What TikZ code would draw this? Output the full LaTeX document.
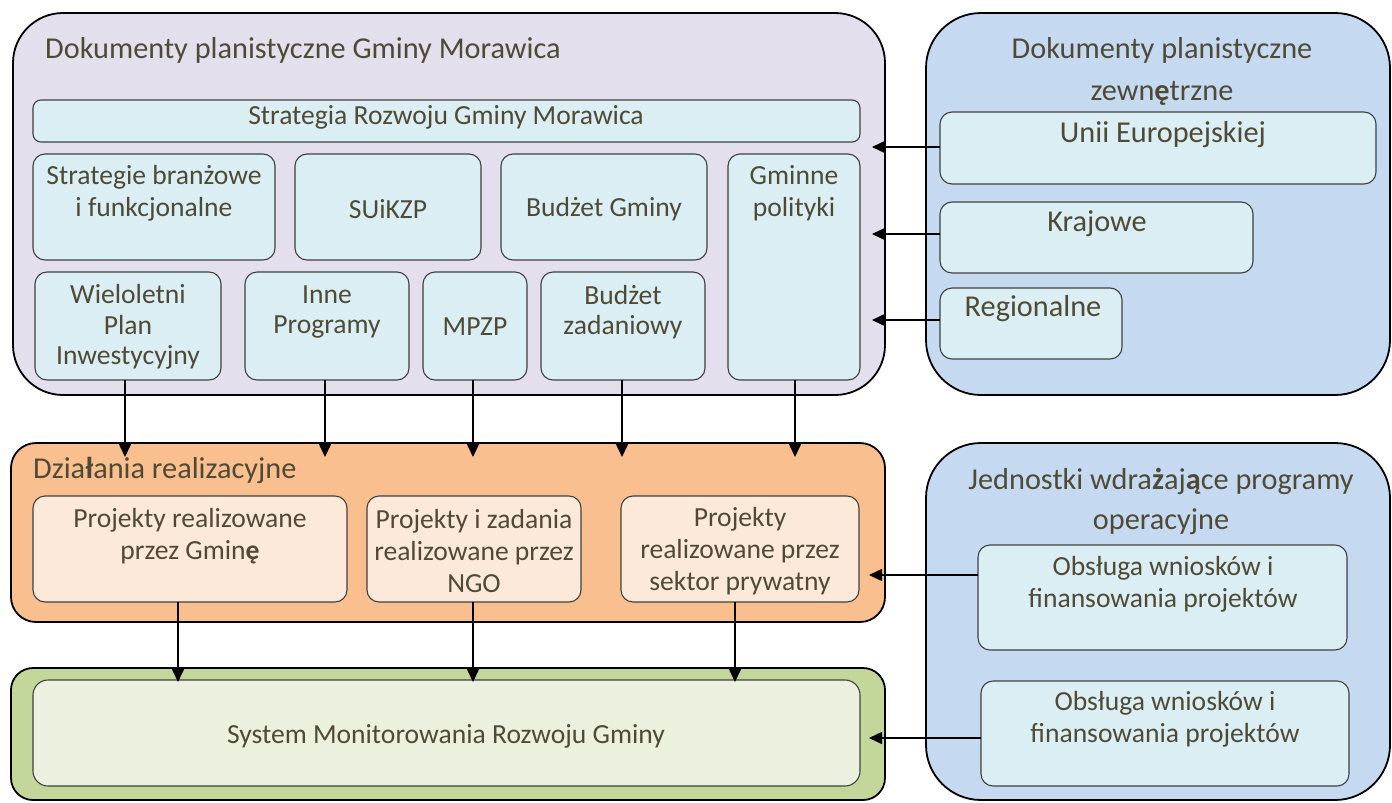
\documentclass[tikz,border=0pt]{standalone}
\usepackage{fontspec}
\setmainfont{Carlito}
\usetikzlibrary{arrows.meta}
\definecolor{txt}{HTML}{4F4A36}
\definecolor{purp}{HTML}{E4DFEC}
\definecolor{lblue}{HTML}{DAEEF3}
\definecolor{mblue}{HTML}{C5D9F1}
\definecolor{orng}{HTML}{FABF8F}
\definecolor{lorng}{HTML}{FDE9D9}
\definecolor{grn}{HTML}{C4D79B}
\definecolor{lgrn}{HTML}{EBF1DE}
\begin{document}
\begin{tikzpicture}[x=1pt,y=-1pt,
  outerbox/.style={draw=black,line width=1.8pt,inner sep=0pt,outer sep=0pt,anchor=north west},
  innerbox/.style={draw=black!75,line width=1.1pt,fill=lblue,rounded corners=12pt,inner sep=0pt,outer sep=0pt,anchor=north west},
  lbl/.style={text=txt,font=\fontsize{27.6}{32}\selectfont,align=center,inner sep=0pt},
  ttl/.style={text=txt,font=\fontsize{30.3}{42}\selectfont,align=center,inner sep=0pt},
  conn/.style={line width=1.6pt,-{Triangle[length=13pt,width=12pt]}}]
\useasboundingbox (0,0) rectangle (1392,803);
% outer boxes
\node[outerbox,fill=purp,rounded corners=50pt,minimum width=872pt,minimum height=382pt] (gm) at (13,13) {};
\node[outerbox,fill=mblue,rounded corners=55pt,minimum width=464pt,minimum height=382pt] (zew) at (926,13) {};
\node[outerbox,fill=orng,rounded corners=25pt,minimum width=874pt,minimum height=179pt] (dz) at (11,443) {};
\node[outerbox,fill=mblue,rounded corners=55pt,minimum width=464pt,minimum height=357pt] (jw) at (926,443) {};
\node[outerbox,fill=grn,rounded corners=22pt,minimum width=874pt,minimum height=132pt] (sm) at (11,668) {};
% purple inner boxes
\node[innerbox,rounded corners=8pt,minimum width=827pt,minimum height=42pt] (sr) at (33,100) {};
\node[innerbox,minimum width=242pt,minimum height=106pt] (sb) at (33,154) {};
\node[innerbox,minimum width=186pt,minimum height=106pt] (su) at (295,154) {};
\node[innerbox,minimum width=206pt,minimum height=106pt] (bg) at (501,154) {};
\node[innerbox,minimum width=132pt,minimum height=226pt] (gp) at (728,154) {};
\node[innerbox,minimum width=186pt,minimum height=108pt] (wp) at (35,272) {};
\node[innerbox,minimum width=164pt,minimum height=108pt] (ip) at (245,272) {};
\node[innerbox,minimum width=104pt,minimum height=108pt] (mp) at (423,272) {};
\node[innerbox,minimum width=164pt,minimum height=108pt] (bz) at (541,272) {};
% right top inner
\node[innerbox,minimum width=436pt,minimum height=72pt] (ue) at (940,112) {};
\node[innerbox,minimum width=313pt,minimum height=71pt] (kr) at (940,202) {};
\node[innerbox,minimum width=182pt,minimum height=71pt] (rg) at (940,288) {};
% orange inner
\node[innerbox,fill=lorng,minimum width=314pt,minimum height=106pt] (pg) at (33,496) {};
\node[innerbox,fill=lorng,minimum width=214pt,minimum height=106pt] (pn) at (367,496) {};
\node[innerbox,fill=lorng,minimum width=238pt,minimum height=106pt] (ps) at (621,496) {};
% right bottom inner
\node[innerbox,minimum width=369pt,minimum height=105pt] (ob1) at (978,545) {};
\node[innerbox,minimum width=368pt,minimum height=105pt] (ob2) at (981,681) {};
% green inner
\node[innerbox,fill=lgrn,rounded corners=15pt,minimum width=827pt,minimum height=106pt] (smi) at (33,680) {};
% texts
\node[ttl,anchor=west] (t1) at (45,50) {Dokumenty planistyczne Gminy Morawica};
\node[lbl] (t2) at (446,117) {Strategia Rozwoju Gminy Morawica};
\node[lbl] (t3) at (154,193) {Strategie branżowe\\i funkcjonalne};
\node[lbl] (t4) at (388,209) {SUiKZP};
\node[lbl] (t5) at (604,209) {Budżet Gminy};
\node[lbl] (t6) at (794,193) {Gminne\\polityki};
\node[lbl,font=\fontsize{27.6}{30.5}\selectfont] (t7) at (128,327) {Wieloletni\\Plan\\Inwestycyjny};
\node[lbl,font=\fontsize{27.6}{30.5}\selectfont] (t8) at (327,312) {Inne\\Programy};
\node[lbl] (t9) at (475,327) {MPZP};
\node[lbl,font=\fontsize{27.6}{30.5}\selectfont] (t10) at (623,312) {Budżet\\zadaniowy};
\node[ttl] (t11) at (1162,71) {Dokumenty planistyczne\\zewn\textbf{ę}trzne};
\node[ttl] (t12) at (1163,135) {Unii Europejskiej};
\node[ttl] (t13) at (1097,224) {Krajowe};
\node[ttl] (t14) at (1033,309) {Regionalne};
\node[ttl,anchor=west] (t15) at (33,470) {Dzia\textbf{ł}ania realizacyjne};
\node[lbl] (t16) at (190,536) {Projekty realizowane\\przez Gmin\textbf{ę}};
\node[lbl] (t17) at (474,551) {Projekty i zadania\\realizowane przez\\NGO};
\node[lbl] (t18) at (740,551) {Projekty\\realizowane przez\\sektor prywatny};
\node[ttl,font=\fontsize{30.3}{40}\selectfont] (t19) at (1161,501) {Jednostki wdra\textbf{ż}aj\textbf{ą}ce programy\\operacyjne};
\node[lbl] (t20) at (1163,584) {Obsługa wniosków i\\finansowania projektów};
\node[lbl] (t21) at (1165,719) {Obsługa wniosków i\\finansowania projektów};
\node[lbl] (t22) at (446,736) {System Monitorowania Rozwoju Gminy};
% connector end points
\coordinate (e1) at (872,147);
\coordinate (e2) at (872,234);
\coordinate (e3) at (872,320);
\coordinate (e4) at (869,575);
\coordinate (e5) at (869,738);
\coordinate (d1) at (125,457);
\coordinate (d2) at (325,457);
\coordinate (d3) at (473,457);
\coordinate (d4) at (622,457);
\coordinate (d5) at (795,457);
\coordinate (g1) at (178,682);
\coordinate (g2) at (473,682);
\coordinate (g3) at (735,682);
% connectors
\draw[conn] (ue.west |- e1) -- (e1);
\draw[conn] (kr.west |- e2) -- (e2);
\draw[conn] (rg.west |- e3) -- (e3);
\draw[conn] (ob1.west |- e4) -- (e4);
\draw[conn] (ob2.west |- e5) -- (e5);
\draw[conn] (d1 |- wp.south) -- (d1);
\draw[conn] (d2 |- ip.south) -- (d2);
\draw[conn] (d3 |- mp.south) -- (d3);
\draw[conn] (d4 |- bz.south) -- (d4);
\draw[conn] (d5 |- gp.south) -- (d5);
\draw[conn] (g1 |- pg.south) -- (g1);
\draw[conn] (g2 |- pn.south) -- (g2);
\draw[conn] (g3 |- ps.south) -- (g3);
\end{tikzpicture}
\end{document}
